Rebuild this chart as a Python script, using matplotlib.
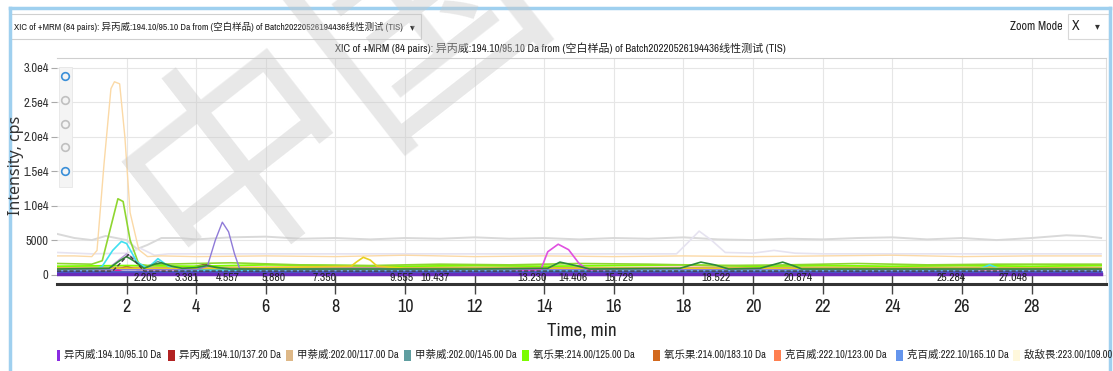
import matplotlib
matplotlib.use("Agg")
import matplotlib.pyplot as plt
from matplotlib import font_manager
from matplotlib.patches import Rectangle
from matplotlib.lines import Line2D

# ---- chromatogram traces (time in min, intensity in cps) ----
ddv_t = [0, 0.5, 1.0, 1.15, 1.35, 1.55, 1.65, 1.8, 1.95, 2.1, 2.35, 2.6, 3.0, 4, 6, 8, 10, 12, 14, 16, 18, 20, 22, 24, 26, 28, 30]
ddv_v = [2700, 2700, 2600, 3500, 16000, 27000, 28000, 27700, 20000, 9000, 3600, 2600, 2700, 2600, 2700, 2600, 2800, 2600, 2700, 2600, 2700, 2600, 2700, 2800, 2600, 2700, 2700]

ylg_t = [0, 1.0, 1.3, 1.5, 1.75, 1.9, 2.1, 2.35, 2.6, 3, 5, 7, 9, 11, 13, 15, 17, 19, 21, 23, 25, 27, 30]
ylg_v = [1600, 1500, 2000, 6000, 11000, 10600, 5000, 1500, 1300, 1500, 1700, 1400, 1300, 1500, 1400, 1600, 1500, 1300, 1400, 1600, 1400, 1500, 1500]

lgr_t = [0, 2, 4, 6, 8, 10, 12, 14, 16, 18, 20, 22, 24, 26, 28, 30]
lgr_v = [1200, 1300, 1200, 1400, 1300, 1200, 1300, 1200, 1300, 1400, 1200, 1300, 1200, 1300, 1200, 1300]

cyan_t = [0, 1.0, 1.3, 1.6, 1.85, 2.0, 2.3, 2.6, 2.9, 3.2, 3.5, 5, 8, 12, 16, 20, 24, 26.4, 26.8, 27.2, 28, 30]
cyan_v = [500, 500, 1200, 3500, 4800, 4500, 1800, 900, 2300, 1200, 600, 600, 500, 600, 500, 600, 500, 600, 1400, 600, 500, 500]

prp_t = [0, 2, 4.0, 4.32, 4.55, 4.75, 4.93, 5.1, 5.25, 6, 10, 15, 20, 25, 30]
prp_v = [700, 700, 700, 1200, 5000, 7600, 6200, 3000, 800, 700, 700, 700, 700, 700, 700]

mag_t = [0, 5, 10, 13.0, 13.9, 14.1, 14.4, 14.7, 15.0, 15.3, 16, 20, 25, 30]
mag_v = [400, 400, 400, 400, 700, 3300, 4400, 3600, 1600, 500, 400, 400, 400, 400]

dgr_t = [0, 1.5, 1.8, 2.0, 2.2, 2.5, 2.8, 3.0, 3.3, 3.6, 4.0, 4.3, 4.6, 5, 8, 12, 14.1, 14.45, 14.9, 15.3, 17.9, 18.5, 18.9, 19.3, 20.2, 20.85, 21.2, 21.4, 25, 30]
dgr_v = [800, 900, 2000, 2600, 2000, 900, 1500, 1700, 1200, 900, 1000, 1300, 1000, 800, 800, 800, 900, 1800, 1300, 800, 900, 1800, 1400, 800, 900, 1800, 1200, 800, 800, 800]

yel_t = [0, 5, 8.45, 8.6, 8.8, 9.0, 9.2, 10, 15, 20, 25, 30]
yel_v = [900, 900, 1200, 1800, 2500, 2100, 1200, 900, 900, 900, 900, 900]

gry_t = [0, 0.5, 1.0, 1.4, 2.0, 2.3, 2.6, 3.0, 3.5, 4, 5, 6, 7, 8, 9, 10, 11, 12, 13, 14, 15, 16, 17, 18, 19, 20, 21, 22, 23, 24, 25, 26, 27, 28, 29, 29.5, 30]
gry_v = [5900, 5300, 5000, 5600, 5000, 3700, 4300, 5300, 5300, 5100, 5400, 5500, 5200, 5300, 5100, 5300, 5200, 5400, 5200, 5300, 5100, 5300, 5200, 5400, 5100, 5000, 5200, 5100, 5300, 5400, 5100, 5300, 5000, 5300, 5700, 5600, 5300]

lav_t = [0, 1, 2, 2.4, 2.8, 3.2, 5, 10, 15, 17.8, 18.1, 18.45, 18.8, 19.2, 20.0, 20.6, 21.2, 22, 25, 28, 30]
lav_v = [3200, 3000, 3100, 3800, 2800, 3000, 3000, 3000, 3000, 3000, 4500, 6300, 5000, 3200, 3100, 3500, 3100, 3000, 3000, 3000, 3000]

thi_t = [0, 1.5, 1.8, 2.0, 2.2, 2.5, 3, 10, 20, 30]
thi_v = [900, 1000, 2200, 3000, 2400, 1000, 900, 900, 900, 900]

blk_t = [0, 1.6, 1.85, 2.05, 2.25, 2.5, 3, 30]
blk_v = [500, 500, 1800, 2900, 1900, 500, 500, 500]

teal_t = [0, 2.4, 2.7, 2.9, 3.2, 3.5, 10, 20, 26, 30]
teal_v = [700, 700, 1400, 1900, 1300, 700, 700, 700, 800, 700]

choc_t = [0, 3.7, 4.0, 4.25, 4.5, 4.8, 10, 20, 30]
choc_v = [900, 900, 1200, 1500, 1200, 900, 900, 900, 900]

pink_t = [0, 5, 10, 15, 20, 25, 30]
pink_v = [1100, 1000, 1100, 1000, 1100, 1000, 1100]

red_t = [0, 1.7, 2.0, 2.3, 10, 20, 30]
red_v = [700, 700, 1200, 700, 700, 700, 700]

coral_t = [0, 8, 16, 24, 30]
coral_v = [1000, 1100, 1000, 1100, 1000]

dpk_t = [0, 1.5, 1.75, 2.0, 3, 30]
dpk_v = [150, 150, 600, 150, 150, 150]

cfb_t = [0, 10, 20, 30]
cfb_v = [350, 350, 350, 350]

bvi_t = [0, 10, 20, 30]
bvi_v = [120, 120, 120, 120]

# peak apex labels printed along the baseline
peak_rt = [2.205, 3.381, 4.557, 5.880, 7.350, 9.555, 10.437, 13.230, 14.406, 15.729, 18.522, 20.874, 25.284, 27.048]

x_ticks = [2, 4, 6, 8, 10, 12, 14, 16, 18, 20, 22, 24, 26, 28]
y_ticks = [0, 5000, 10000, 15000, 20000, 25000, 30000]
y_tick_labels = ["0", "5000", "1.0e4", "1.5e4", "2.0e4", "2.5e4", "3.0e4"]

legend_labels = ["异丙威:194.10/95.10 Da", "异丙威:194.10/137.20 Da", "甲萘威:202.00/117.00 Da",
                 "甲萘威:202.00/145.00 Da", "氧乐果:214.00/125.00 Da", "氧乐果:214.00/183.10 Da",
                 "克百威:222.10/123.00 Da", "克百威:222.10/165.10 Da", "敌敌畏:223.00/109.00 Da"]
legend_colors = ["#8a2be2", "#b22222", "#deb887", "#5f9ea0", "#7cfc00", "#d2691e", "#ff7f50", "#6495ed", "#fff8dc"]
legend_x = [57, 168, 286, 404, 522, 653, 774, 896, 1013]

title = "XIC of +MRM (84 pairs): 异丙威:194.10/95.10 Da from (空白样品) of Batch20220526194436线性测试 (TIS)"

names = {f.name for f in font_manager.fontManager.ttflist}
narrow = next((n for n in ["Archivo Narrow", "Liberation Sans Narrow", "Roboto Condensed"] if n in names),
              "Liberation Sans")
fam = [narrow, "Noto Sans CJK SC", "DejaVu Sans"]
plt.rcParams["font.family"] = fam

W, H = 1113, 371
fig = plt.figure(figsize=(W / 100, H / 100), dpi=100)
fig.patch.set_facecolor("white")
renderer = fig.canvas.get_renderer()


def fx(px):
    return px / W


def fy(py):
    return 1 - py / H


def fit(t, width_px):
    # rescale a text so it spans the given pixel width
    w = t.get_window_extent(renderer).width
    t.set_fontsize(t.get_fontsize() * width_px / w)
    return t.get_fontsize()


ax = fig.add_axes([fx(57), fy(284), (1106 - 57) / W, (284 - 58) / H])

traces = [
    (gry_t, gry_v, "#d9d9d9", 1.4),
    (lav_t, lav_v, "#e6e3f0", 1.2),
    (ddv_t, ddv_v, "#fbd9a6", 1.0),
    (pink_t, pink_v, "#ffc0cb", 1.0),
    (coral_t, coral_v, "#ffa07a", 1.0),
    (red_t, red_v, "#c04040", 1.0),
    (choc_t, choc_v, "#8b5a2b", 1.0),
    (teal_t, teal_v, "#5f9ea0", 1.0),
    (thi_t, thi_v, "#b89ad8", 1.0),
    (lgr_t, lgr_v, "#7cfc00", 1.3),
    (ylg_t, ylg_v, "#8fd630", 1.2),
    (cyan_t, cyan_v, "#40e0f0", 1.2),
    (yel_t, yel_v, "#e8d020", 1.2),
    (prp_t, prp_v, "#8f7ad8", 1.0),
    (mag_t, mag_v, "#e050e0", 1.2),
    (dgr_t, dgr_v, "#2f8a3a", 1.2),
    (dpk_t, dpk_v, "#e0209a", 1.5),
    (cfb_t, cfb_v, "#4060c8", 2.0),
    (bvi_t, bvi_v, "#6a2bb8", 2.5),
]
for t, v, c, lw in traces:
    ax.plot(t, v, color=c, lw=lw, solid_joinstyle="round")
ax.plot(blk_t, blk_v, color="#404040", lw=1.0, ls=(0, (3, 1.5)))

rt_texts = [ax.text(rt, -1250, f"{rt:.3f}", ha="left", va="bottom", fontsize=8.5, color="#222222")
            for rt in peak_rt]
rt_size = fit(rt_texts[0], 24)
for t in rt_texts:
    t.set_fontsize(rt_size)

ax.set_xlim(0.0, 30.14)
ax.set_ylim(-1380, 31450)
ax.set_xticks(x_ticks)
ax.set_yticks(y_ticks)
ax.set_yticklabels(y_tick_labels)
ax.grid(True, color="#e6e6e6", lw=0.8)
ax.set_axisbelow(True)
ax.tick_params(axis="x", direction="inout", length=14, width=1, color="#444444",
               labelsize=13, pad=4, labelcolor="#222222")
ax.tick_params(axis="y", direction="out", length=4, width=0.8, color="#aaaaaa",
               labelsize=9, pad=2, labelcolor="#333333")
ax.spines["left"].set_visible(False)
ax.spines["right"].set_color("#dddddd")
ax.spines["top"].set_color("#cfcfcf")
ax.spines["bottom"].set_color("#333333")
ax.spines["bottom"].set_linewidth(2.2)

# zoom toolbar in the plot corner
ax.add_patch(Rectangle((0.0015, 0.43), 0.013, 0.53, transform=ax.transAxes,
                       facecolor="#f4f4f4", edgecolor="#e6e6e6", lw=0.6, zorder=5))
for i, c in enumerate(["#3a8fd8", "#c0c0c0", "#c0c0c0", "#c0c0c0", "#3a8fd8"]):
    ax.plot(0.008, 0.92 - i * 0.105, marker="o", ms=5.5, mfc="none", mec=c, mew=1.2,
            transform=ax.transAxes, zorder=6)

fig.text(fx(582), fy(330), "Time, min", ha="center", va="center", fontsize=13.5, color="#222222")
fig.text(fx(16), fy(165), "Intensity, cps", rotation=90, ha="center", va="center",
         fontsize=11.5, color="#333333", family=["Noto Sans", "DejaVu Sans"])

fit(fig.text(fx(560), fy(48), title, ha="center", va="center", fontsize=8, color="#222222"), 450)

# window chrome
fig.add_artist(Rectangle((fx(10), fy(39)), (421 - 10) / W, 25 / H, transform=fig.transFigure,
                         facecolor="white", edgecolor="#d0d0d0", lw=0.8))
fit(fig.text(fx(14), fy(27), title, ha="left", va="center", fontsize=8, color="#222222"), 390)
fig.text(fx(412), fy(27), "▾", ha="center", va="center", fontsize=7, color="#333333",
         family=["DejaVu Sans"])
fit(fig.text(fx(1010), fy(26), "Zoom Mode", ha="left", va="center", fontsize=9.5, color="#222222"), 52)
fig.add_artist(Rectangle((fx(1068), fy(39)), 41 / W, 25 / H, transform=fig.transFigure,
                         facecolor="white", edgecolor="#d8d8d8", lw=0.8))
fig.text(fx(1072), fy(26), "X", ha="left", va="center", fontsize=10, color="#222222")
fig.text(fx(1097), fy(26), "▾", ha="center", va="center", fontsize=7, color="#333333",
         family=["DejaVu Sans"])
for xs, ys in [([fx(10), fx(1110)], [fy(8), fy(8)]),
               ([fx(10), fx(10)], [fy(8), 0]),
               ([fx(1110), fx(1110)], [fy(8), 0])]:
    fig.add_artist(Line2D(xs, ys, color="#9fd0ef", lw=2.5))

# legend row
leg_size = None
for lbl, c, x in zip(legend_labels, legend_colors, legend_x):
    w = 3 if x == legend_x[0] else 7
    fig.add_artist(Rectangle((fx(x), fy(361)), w / W, 11 / H, transform=fig.transFigure,
                             facecolor=c, edgecolor="none"))
    t = fig.text(fx(x + w + 4), fy(355), lbl, ha="left", va="center", fontsize=8, color="#222222")
    if leg_size is None:
        leg_size = fit(t, 98)
    t.set_fontsize(leg_size)

# watermark
fig.text(0.30, 0.76, "中国", rotation=38, ha="center", va="center", fontsize=165,
         color="#c8c8c8", alpha=0.42, family=["Noto Sans CJK SC"], zorder=20)

fig.savefig("out.png", dpi=100)
